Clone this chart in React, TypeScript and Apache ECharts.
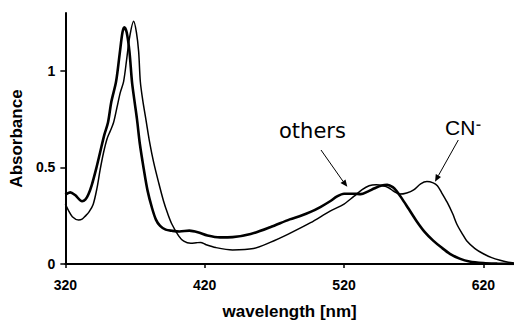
import React, { useEffect, useRef } from "react";
import * as echarts from "echarts";

const othersData: [number, number][] = [
  [320, 0.359], [323.5, 0.371], [327, 0.357], [332, 0.325], [334.3, 0.333], [336.5, 0.36],
  [339, 0.41], [342, 0.49], [345, 0.58], [348, 0.67], [350.6, 0.733], [353, 0.84],
  [356.4, 0.945], [359, 1.09], [361, 1.2], [362.3, 1.226], [364, 1.2], [366, 1.1],
  [367.8, 0.945], [369.5, 0.85], [371.4, 0.75], [373.5, 0.62], [376.2, 0.495], [379, 0.38],
  [382.2, 0.29], [385, 0.23], [388, 0.197], [392, 0.178], [396.5, 0.172], [402, 0.168],
  [409, 0.173], [415, 0.165], [422, 0.148], [431, 0.138], [440, 0.139], [453, 0.155],
  [467, 0.19], [481, 0.231], [489, 0.25], [496, 0.27], [503, 0.295], [510, 0.325],
  [515, 0.35], [520, 0.364], [527, 0.364], [532, 0.362], [537, 0.375], [542, 0.392],
  [547, 0.406], [551, 0.41], [555, 0.398], [558, 0.375], [561, 0.345], [566, 0.29],
  [572, 0.223], [578, 0.165], [584, 0.121], [590, 0.085], [596, 0.053], [603, 0.028],
  [610, 0.013], [620, 0.005], [630, 0.002], [642, 0],
];

const cnData: [number, number][] = [
  [320, 0.31], [322, 0.28], [325, 0.245], [329.5, 0.228], [332, 0.232], [334.3, 0.248],
  [337, 0.27], [340, 0.31], [342.7, 0.393], [345, 0.49], [347.5, 0.58], [350, 0.65],
  [352.3, 0.69], [354.6, 0.733], [357, 0.81], [359.5, 0.89], [361.8, 0.945], [364, 1.06],
  [366, 1.17], [369, 1.257], [371, 1.2], [372.6, 1.1], [373.8, 0.945], [375.5, 0.85],
  [378, 0.74], [380.5, 0.63], [383.3, 0.529], [387, 0.42], [390.5, 0.325], [393.5, 0.26],
  [396.5, 0.206], [401.3, 0.146], [405, 0.118], [410, 0.107], [414, 0.11], [417, 0.112],
  [421, 0.1], [428, 0.085], [440, 0.073], [455, 0.08], [467, 0.112], [480, 0.155],
  [496, 0.214], [510, 0.274], [520, 0.31], [527, 0.35], [533, 0.385], [538, 0.405],
  [543, 0.41], [548, 0.405], [552, 0.395], [556, 0.375], [560, 0.362], [565, 0.368],
  [570, 0.384], [575, 0.415], [579.5, 0.427], [584, 0.42], [587, 0.405], [590, 0.37],
  [594, 0.32], [598, 0.26], [601, 0.206], [605, 0.155], [608, 0.121], [614, 0.08],
  [620, 0.053], [626, 0.033], [632, 0.019], [637, 0.01], [642, 0.005],
];

const xTicks = [320, 420, 520, 620];
const yTicks = [0, 0.5, 1];

const FONT = "Liberation Sans, Arial, sans-serif";

export default function App() {
  const ref = useRef<HTMLDivElement>(null);
  useEffect(() => {
    document.body.style.margin = "0";
    const chart = echarts.init(ref.current!, null, { renderer: "svg" });
    chart.setOption({
      animation: false,
      backgroundColor: "#fff",
      grid: { left: 65, top: 13, width: 449, height: 254 },
      xAxis: {
        type: "value",
        min: 320,
        max: 642,
        name: "wavelength [nm]",
        nameLocation: "middle",
        nameGap: 39,
        nameTextStyle: { fontFamily: FONT, fontWeight: "bold", fontSize: 17, color: "#000" },
        axisLine: { lineStyle: { color: "#000", width: 2 } },
        axisTick: { show: true, length: 4, lineStyle: { color: "#000", width: 1.5 }, customValues: xTicks },
        axisLabel: {
          customValues: xTicks,
          margin: 14,
          fontFamily: FONT,
          fontWeight: "bold",
          fontSize: 14,
          color: "#000",
        },
        splitLine: { show: false },
      },
      yAxis: {
        type: "value",
        min: 0,
        max: 1.3,
        name: "Absorbance",
        nameLocation: "middle",
        nameRotate: 90,
        nameGap: 40,
        nameTextStyle: { fontFamily: FONT, fontWeight: "bold", fontSize: 17, color: "#000" },
        axisLine: { show: true, lineStyle: { color: "#000", width: 2 } },
        axisTick: { show: true, length: 5, lineStyle: { color: "#000", width: 1.5 }, customValues: yTicks },
        axisLabel: {
          customValues: yTicks,
          margin: 10,
          fontFamily: FONT,
          fontWeight: "bold",
          fontSize: 14,
          color: "#000",
          formatter: (v: number) => String(v),
        },
        splitLine: { show: false },
      },
      series: [
        {
          name: "others",
          type: "line",
          data: othersData,
          smooth: 0.3,
          showSymbol: false,
          lineStyle: { color: "#000", width: 2.6 },
          z: 3,
        },
        {
          name: "CN-",
          type: "line",
          data: cnData,
          smooth: 0.3,
          showSymbol: false,
          lineStyle: { color: "#000", width: 1.5 },
          z: 2,
        },
      ],
      graphic: [
        {
          type: "text",
          left: 279,
          top: 120,
          style: { text: "others", fontFamily: "DejaVu Sans, sans-serif", fontSize: 21, fill: "#000" },
        },
        {
          type: "text",
          left: 445,
          top: 117,
          style: { text: "CN", fontFamily: FONT, fontSize: 21, fill: "#000" },
        },
        {
          type: "rect",
          shape: { x: 476.5, y: 124.5, width: 4, height: 1.4 },
          style: { fill: "#000" },
        },
        {
          type: "line",
          shape: { x1: 321, y1: 150, x2: 343, y2: 181.3 },
          style: { stroke: "#000", lineWidth: 1 },
        },
        {
          type: "polygon",
          shape: { points: [[347.3, 186.7], [340.5, 183], [345.5, 179.6]] },
          style: { fill: "#000" },
        },
        {
          type: "line",
          shape: { x1: 458.3, y1: 140, x2: 438.4, y2: 175.6 },
          style: { stroke: "#000", lineWidth: 1 },
        },
        {
          type: "polygon",
          shape: { points: [[435, 181.7], [435.8, 174.1], [441, 177.1]] },
          style: { fill: "#000" },
        },
      ],
    });
    return () => chart.dispose();
  }, []);
  return <div ref={ref} style={{ width: 514, height: 325 }} />;
}
